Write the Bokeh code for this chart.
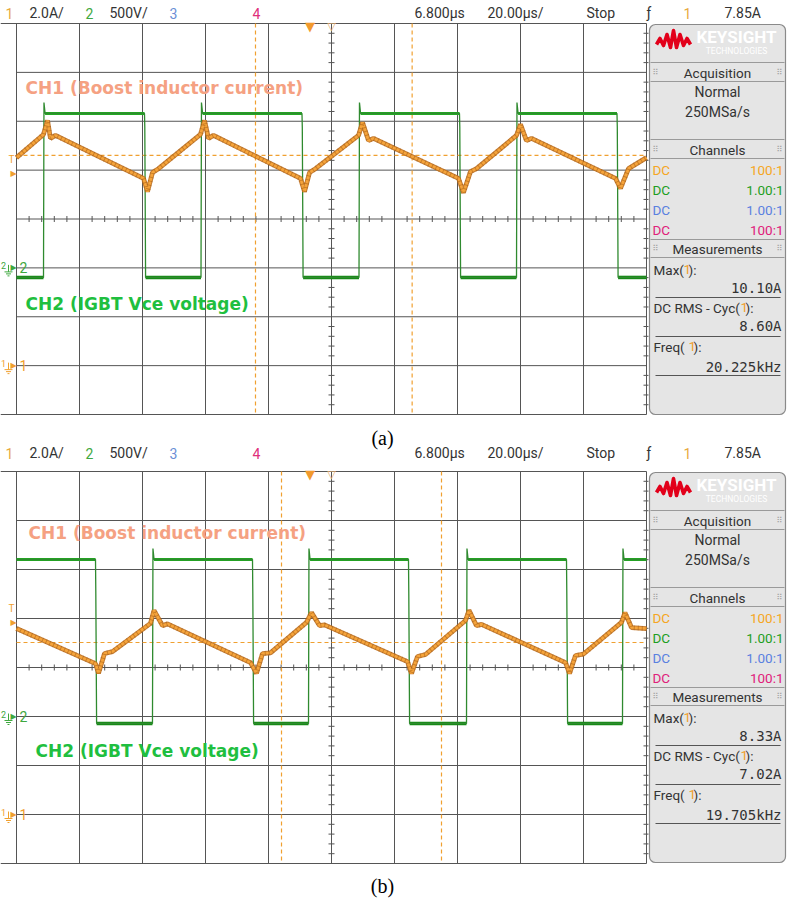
from bokeh.plotting import figure
from bokeh.models import Range1d
from bokeh.embed import file_html
from bokeh.resources import INLINE
from bokeh.core.properties import value

W, H = 787, 911

# ---------------- data ----------------
# time: µs measured from the left edge of the screen (20 µs/div, 10 div)
# (a)
a_il_t = [0.0, 8.57, 9.84, 10.79, 12.38, 40.32, 41.59, 43.17, 45.08,
          58.41, 59.68, 60.95, 62.54, 90.16, 91.43, 93.02, 94.92,
          108.57, 109.84, 111.75, 113.33, 140.32, 141.90, 144.13, 146.03,
          158.73, 160.0, 161.90, 163.49, 190.16, 191.75, 194.29, 200.0]
a_il_A = [8.51, 9.46, 10.03, 9.30, 9.42, 7.66, 7.12, 7.90, 8.06,
          9.46, 10.03, 9.30, 9.42, 7.66, 7.12, 7.90, 8.06,
          9.42, 9.95, 9.21, 9.30, 7.66, 7.08, 7.94, 8.06,
          9.42, 9.87, 9.21, 9.30, 7.66, 7.25, 8.06, 8.51]
a_vce_rise_t = [8.57, 58.57, 108.73, 158.73]
a_vce_fall_t = [40.63, 90.63, 140.63, 190.63]
a_vce_start_high = False
a_vce_high_V = 1580
a_vce_spike_V = 1692
a_vce_low_V = -98
a_vce_knee_V = 1436
a_cursor_t = [75.87, 125.6]
a_cursor_A = 8.60
a_meas_values = ["10.10A", "8.60A", "20.225kHz"]

# (b)
b_il_t = [0.0, 25.08, 26.03, 27.94, 30.48, 42.54, 43.65, 46.35, 47.94,
          74.29, 76.19, 78.10, 80.63, 92.06, 93.65, 96.19, 97.78,
          124.13, 125.40, 127.30, 129.84, 142.54, 143.65, 146.03, 147.62,
          174.29, 175.56, 177.46, 180.0, 192.06, 193.17, 195.24, 200.0]
b_il_A = [7.59, 6.16, 5.76, 6.57, 6.65, 7.80, 8.33, 7.71, 7.78,
          6.20, 5.76, 6.57, 6.60, 7.84, 8.24, 7.71, 7.74,
          6.24, 5.76, 6.45, 6.53, 7.92, 8.33, 7.71, 7.76,
          6.20, 5.76, 6.49, 6.55, 7.84, 8.24, 7.63, 7.59]
b_vce_rise_t = [43.17, 92.70, 142.86, 192.38]
b_vce_fall_t = [25.08, 74.92, 124.44, 174.60]
b_vce_start_high = True
b_vce_high_V = 1602
b_vce_spike_V = 1714
b_vce_low_V = -71
b_vce_knee_V = 1255
b_cursor_t = [84.13, 134.92]
b_cursor_A = 7.02
b_meas_values = ["8.33A", "7.02A", "19.705kHz"]

trigger_level_A = 7.85
trigger_time_t = 93.2
screen_center_t = 100.0

header_left_text = ["1", "2.0A/", "2", "500V/", "3", "4"]
header_right_text = ["6.800µs", "20.00µs/", "Stop", "ƒ", "1", "7.85A"]
channel_coupling = ["DC", "DC", "DC", "DC"]
channel_probe = ["100:1", "1.00:1", "1.00:1", "100:1"]
meas_names = ["Max(", "DC RMS - Cyc(", "Freq("]
acq_text = ["Normal", "250MSa/s"]
ch1_label = "CH1 (Boost inductor current)"
ch2_label = "CH2 (IGBT Vce voltage)"
captions = ["(a)", "(b)"]

# Keysight logo outline (pixel offsets)
logo_dx = [0, 3.5, 7, 10.5, 14, 17, 20, 23.5, 27, 30.5, 34]
logo_dy = [4, -2, 5, -6, 7, -10, 7, -6, 5, -2, 4]

# ---------------- colours ----------------
C_OR = "#f6a43a"
C_OR_DARK = "#c0701e"
C_GR = "#22a822"
C_GR_DARK = "#2f8a2f"
C_GRID = "#555555"
C_TXT = "#333333"
HDR_COLORS = ["#e8aa40", C_TXT, "#3fa83f", C_TXT, "#6b8fd6", "#e0307a"]
HDR_RIGHT_COLORS = [C_TXT, C_TXT, C_TXT, C_TXT, "#e8aa40", C_TXT]
CH_COLORS = ["#f5a623", "#1e9e1e", "#5a80e0", "#e0207a"]

# ---------------- geometry ----------------
SX0, SX1 = 16, 646
DIVX = (SX1 - SX0) / 10.0
T_PER_PX = 200.0 / (SX1 - SX0)

p = figure(width=W, height=H, x_range=Range1d(0, W), y_range=Range1d(H, 0),
           toolbar_location=None, output_backend="svg",
           x_axis_type=None, y_axis_type=None, min_border=0,
           outline_line_color=None, background_fill_color="white",
           border_fill_color="white")

p.extra_x_ranges = {"t": Range1d((0 - SX0) * T_PER_PX, (W - SX0) * T_PER_PX)}


def yr(gnd_row, ppu):
    return Range1d(start=(gnd_row - H) / ppu, end=gnd_row / ppu)


def T(x, y, s, color=C_TXT, size=13.5, font="Roboto", align="left",
      baseline="middle", style="normal", xr=None, yrn=None):
    kw = {}
    if xr:
        kw["x_range_name"] = xr
    if yrn:
        kw["y_range_name"] = yrn
    p.text(x=[x], y=[y], text=[s], text_color=color,
           text_font_size=f"{size}px", text_font=value(font),
           text_align=align, text_baseline=baseline,
           text_font_style=style, **kw)


def vce_path(rises, falls, start_high, high, spike, low, knee):
    ev = sorted([(t, "r") for t in rises] + [(t, "f") for t in falls])
    xs = [0.0]
    ys = [high if start_high else low]
    hi_segs, lo_segs = [], []
    cur_start = 0.0
    for t, k in ev:
        if k == "r":
            lo_segs.append((cur_start, t))
            xs += [t, t + 0.15, t + 0.5]
            ys += [low, spike, high]
            cur_start = t + 0.5
        else:
            hi_segs.append((cur_start, t))
            xs += [t, t + 0.1, t + 0.35]
            ys += [high, knee, low]
            cur_start = t + 0.35
    if ys[-1] == high:
        hi_segs.append((cur_start, 200.0))
    else:
        lo_segs.append((cur_start, 200.0))
    xs.append(200.0)
    ys.append(ys[-1])
    return xs, ys, hi_segs, lo_segs


def draw_screen(key, top, bottom, hdr_y, pt, il_t, il_A, rises, falls,
                start_high, vh, vs, vl, vk, cur_t, cur_A, meas_vals,
                ch1_xy, ch2_xy, cap_y):
    div = (bottom - top) / 8.0
    g1 = top + 7 * div
    g2 = top + 5 * div
    p.extra_y_ranges["i" + key] = yr(g1, div / 2.0)
    p.extra_y_ranges["v" + key] = yr(g2, div / 500.0)

    # ---- grid ----
    xs0, xs1, ys0, ys1 = [], [], [], []
    for k in range(11):
        x = SX0 + k * DIVX
        xs0.append(x); xs1.append(x); ys0.append(top); ys1.append(bottom)
    for j in range(9):
        y = top + j * div
        xs0.append(0 if j in (0, 8) else SX0); xs1.append(SX1)
        ys0.append(y); ys1.append(y)
    p.segment(xs0, ys0, xs1, ys1, line_color=C_GRID, line_width=1)
    # minor ticks
    cx = SX0 + 5 * DIVX
    cy = top + 4 * div
    tx0, tx1, ty0, ty1 = [], [], [], []
    for m in range(1, 40):
        if m % 5 == 0:
            continue
        y = top + m * div / 5
        tx0 += [cx - 3, SX1 - 3]; tx1 += [cx + 3, SX1 + 2]
        ty0 += [y, y]; ty1 += [y, y]
    for m in range(1, 50):
        if m % 5 == 0:
            continue
        x = SX0 + m * DIVX / 5
        tx0.append(x); tx1.append(x); ty0.append(cy - 3); ty1.append(cy + 3)
    p.segment(tx0, ty0, tx1, ty1, line_color=C_GRID, line_width=1)

    # ---- cursors ----
    p.segment(x0=cur_t, y0=[top, top], x1=cur_t, y1=[bottom, bottom],
              x_range_name="t", line_color="#f0a030", line_width=1.2,
              line_dash="4 3")
    p.segment(x0=[0.0], y0=[cur_A], x1=[200.0], y1=[cur_A],
              x_range_name="t", y_range_name="i" + key,
              line_color="#f0a030", line_width=1.2, line_dash="4 3")

    # ---- CH2 Vce ----
    vx, vy, hi, lo = vce_path(rises, falls, start_high, vh, vs, vl, vk)
    p.segment(x0=[a for a, b in lo], y0=[vl] * len(lo), x1=[b for a, b in lo],
              y1=[vl] * len(lo), x_range_name="t", y_range_name="v" + key,
              line_color="#178a17", line_width=3.5)
    p.segment(x0=[a for a, b in hi], y0=[vh] * len(hi), x1=[b for a, b in hi],
              y1=[vh] * len(hi), x_range_name="t", y_range_name="v" + key,
              line_color=C_GR, line_width=3)
    p.line(vx, vy, x_range_name="t", y_range_name="v" + key,
           line_color=C_GR_DARK, line_width=1.3)

    # ---- CH1 inductor current ----
    p.line(il_t, il_A, x_range_name="t", y_range_name="i" + key,
           line_color=C_OR_DARK, line_width=4.8, line_alpha=0.9)
    p.line(il_t, il_A, x_range_name="t", y_range_name="i" + key,
           line_color=C_OR, line_width=2.6)
    p.line(il_t, il_A, x_range_name="t", y_range_name="i" + key,
           line_color="#9a5410", line_width=4.8, line_alpha=0.45,
           line_dash="1 3")

    # ---- markers at top (trigger time / center) ----
    T(trigger_time_t, top + 3, "▼", color="#f29a2e", size=13, font="DejaVu Sans",
      align="center", xr="t")
    T(screen_center_t, top + 3, "▽", color="#e8b070", size=11, font="DejaVu Sans",
      align="center", xr="t")

    # ---- trigger level marker ----
    T(13, trigger_level_A, "▶", color="#f0a030", size=8, font="DejaVu Sans",
      align="center", yrn="i" + key)
    p.text(x=[11], y=[trigger_level_A], text=["T"], text_color="#f0a030",
           text_font_size="10px", text_font=value("Roboto"), text_align="center",
           text_baseline="middle", y_offset=-14, y_range_name="i" + key)

    # ---- ground markers ----
    for lab, col, rng in (("2", "#3fa83f", "v" + key), ("1", "#f0a030", "i" + key)):
        p.text(x=[3], y=[0], text=[lab], text_color=col, text_font_size="9px",
               text_font=value("Roboto"), text_align="center",
               text_baseline="middle", y_offset=-2, y_range_name=rng)
        T(13, 0, "▶", color=col, size=8, font="DejaVu Sans", align="center", yrn=rng)
        T(19, 0, lab, color=col, size=14, font="Roboto", align="left", yrn=rng)
    for g, col in ((g2, "#3fa83f"), (g1, "#f0a030")):
        p.segment([8, 4, 5.5, 7], [g - 3, g + 4, g + 6, g + 8],
                  [8, 12, 10.5, 9], [g + 4, g + 4, g + 6, g + 8],
                  line_color=col, line_width=1)

    # ---- channel labels ----
    T(ch1_xy[0], ch1_xy[1], ch1_label, color="#f5a182", size=17,
      font="DejaVu Sans", style="bold")
    T(ch2_xy[0], ch2_xy[1], ch2_label, color="#1fbf3f", size=17,
      font="DejaVu Sans", style="bold")

    # ---- header bar ----
    hx_left = [5, 29, 85, 109, 169, 252]
    for x, s, c in zip(hx_left, header_left_text, HDR_COLORS):
        T(x, hdr_y, s, color=c, size=14)
    hx_right = [414, 487, 586, 646, 683, 724]
    for x, s, c in zip(hx_right, header_right_text, HDR_RIGHT_COLORS):
        T(x, hdr_y, s, color=c, size=14)

    # ---- side panel ----
    p.quad(left=[649], right=[785], top=[pt], bottom=[pt + 390],
           fill_color="#e5e5e5", line_color="#8a8a8a", line_width=1.2,
           border_radius=6)
    p.line([656 + d for d in logo_dx], [pt + 16 + d for d in logo_dy],
           line_color="#e2001a", line_width=3.6, line_join="round")
    T(736, pt + 12, "KEYSIGHT", color="white", size=17, font="Roboto",
      align="center", style="bold")
    T(736, pt + 26, "TECHNOLOGIES", color="white", size=8.5, font="Roboto",
      align="center")
    seps = [38, 57, 115, 134, 215, 233]
    p.segment([650] * len(seps), [pt + s for s in seps], [784] * len(seps),
              [pt + s for s in seps], line_color="#9a9a9a", line_width=1)
    unders = [273, 312, 351]
    p.segment([655] * 3, [pt + s for s in unders], [780] * 3,
              [pt + s for s in unders], line_color="#555555", line_width=1)
    for row, s in ((48, "Acquisition"), (125, "Channels"), (224, "Measurements")):
        T(717, pt + row, s, size=13.5, align="center")
        T(655, pt + row, "⠿", color="#a0a0a0", size=8, font="DejaVu Sans",
          align="center")
        T(779, pt + row, "⠿", color="#a0a0a0", size=8, font="DejaVu Sans",
          align="center")
    T(717, pt + 67, acq_text[0], size=14, align="center")
    T(717, pt + 87, acq_text[1], size=14, align="center")
    for k, (cp, pr, col) in enumerate(zip(channel_coupling, channel_probe, CH_COLORS)):
        T(652, pt + 145 + 20 * k, cp, color=col, size=13.5)
        T(783, pt + 145 + 20 * k, pr, color=col, size=13.5, align="right")
    one_x = [683, 740, 688]
    for k, (nm, ox, mv) in enumerate(zip(meas_names, one_x, meas_vals)):
        r = pt + 245 + 38 * k + (1 if k == 2 else 0)
        T(653, r, nm, size=13.5)
        T(ox, r, "1", color="#f0a030", size=13.5)
        T(ox + 5, r, "):", size=13.5)
        T(781, r + 18 + (2 if k == 2 else 0), mv, size=14,
          font="DejaVu Sans Mono", align="right")

    # ---- caption ----
    T(382, cap_y, captions[0 if key == "a" else 1], color="black", size=20,
      font="Liberation Serif", align="center")


draw_screen("a", 23, 414, 12.5, 24, a_il_t, a_il_A, a_vce_rise_t, a_vce_fall_t,
            a_vce_start_high, a_vce_high_V, a_vce_spike_V, a_vce_low_V,
            a_vce_knee_V, a_cursor_t, a_cursor_A, a_meas_values,
            (25, 87), (25, 303), 437)
draw_screen("b", 471, 863, 452.5, 472, b_il_t, b_il_A, b_vce_rise_t, b_vce_fall_t,
            b_vce_start_high, b_vce_high_V, b_vce_spike_V, b_vce_low_V,
            b_vce_knee_V, b_cursor_t, b_cursor_A, b_meas_values,
            (28, 532), (35, 750), 885)

open("out.html", "w").write(file_html(p, INLINE))
